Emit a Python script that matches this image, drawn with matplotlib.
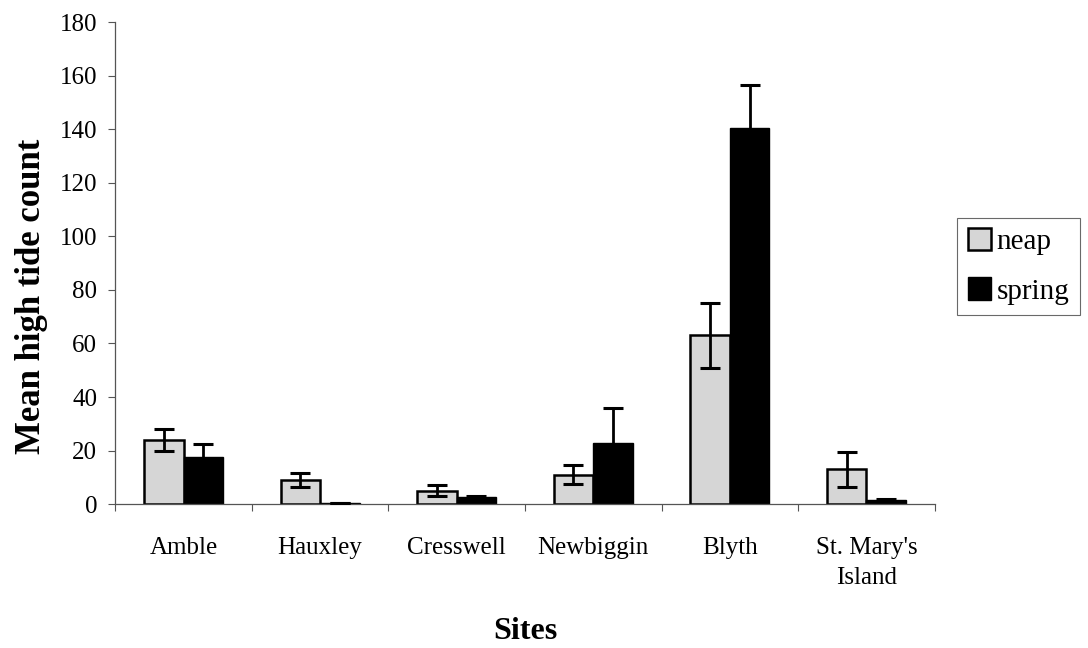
import matplotlib.pyplot as plt
import numpy as np

sites = ["Amble", "Hauxley", "Cresswell", "Newbiggin", "Blyth", "St. Mary's\nIsland"]
neap = [24, 9, 5, 11, 63, 13]
neap_err = [4, 2.7, 2, 3.5, 12, 6.5]
spring = [17.5, 0.3, 2.5, 23, 140.5, 1.5]
spring_err = [5, 0, 0.5, 13, 16, 0.5]

plt.rcParams["font.family"] = ["Liberation Serif", "DejaVu Serif"]

fig = plt.figure(figsize=(10.88, 6.48), dpi=100)
ax = fig.add_axes([0.106, 0.222, 0.753, 0.744])

x = np.arange(len(sites))
w = 0.29

ax.bar(x - w / 2, neap, w, color="#d6d6d6", edgecolor="black", linewidth=1.8,
       label="neap", zorder=2)
ax.bar(x + w / 2, spring, w, color="black", edgecolor="black", linewidth=1.0,
       label="spring", zorder=2)
ax.errorbar(x - w / 2, neap, yerr=neap_err, fmt="none", ecolor="black",
            elinewidth=2, capsize=7, capthick=2.2, zorder=3)
ax.errorbar(x + w / 2, spring, yerr=spring_err, fmt="none", ecolor="black",
            elinewidth=2, capsize=7, capthick=2.2, zorder=3)

ax.set_xlim(-0.5, len(sites) - 0.5)
ax.set_ylim(0, 180)
ax.set_yticks(np.arange(0, 181, 20))
ax.tick_params(axis="y", labelsize=18, length=5, direction="out", width=0.8,
               pad=8, color="#555555")

ax.set_xticks(x)
ax.set_xticklabels(sites, fontsize=18, linespacing=1.45)
ax.tick_params(axis="x", which="major", length=0, pad=24)
ax.set_xticks(np.arange(-0.5, len(sites), 1), minor=True)
ax.tick_params(axis="x", which="minor", length=5, direction="out", width=0.8,
               color="#555555")

for s in ["top", "right"]:
    ax.spines[s].set_visible(False)
for s in ["left", "bottom"]:
    ax.spines[s].set_color("#555555")
    ax.spines[s].set_linewidth(0.9)

ax.set_ylabel("Mean high tide count", fontsize=25, fontweight="bold")
ax.yaxis.set_label_coords(-0.082, 0.43)
ax.set_xlabel("Sites", fontsize=23, fontweight="bold", labelpad=20)

leg = fig.legend(loc="center left", bbox_to_anchor=(0.880, 0.589), fontsize=21,
                 frameon=True, fancybox=False, edgecolor="#444444",
                 handlelength=0.8, handleheight=0.8, handletextpad=0.2,
                 borderpad=0.35, labelspacing=0.75, borderaxespad=0)
leg.get_frame().set_linewidth(0.8)

fig.savefig("out.png", dpi=100)
